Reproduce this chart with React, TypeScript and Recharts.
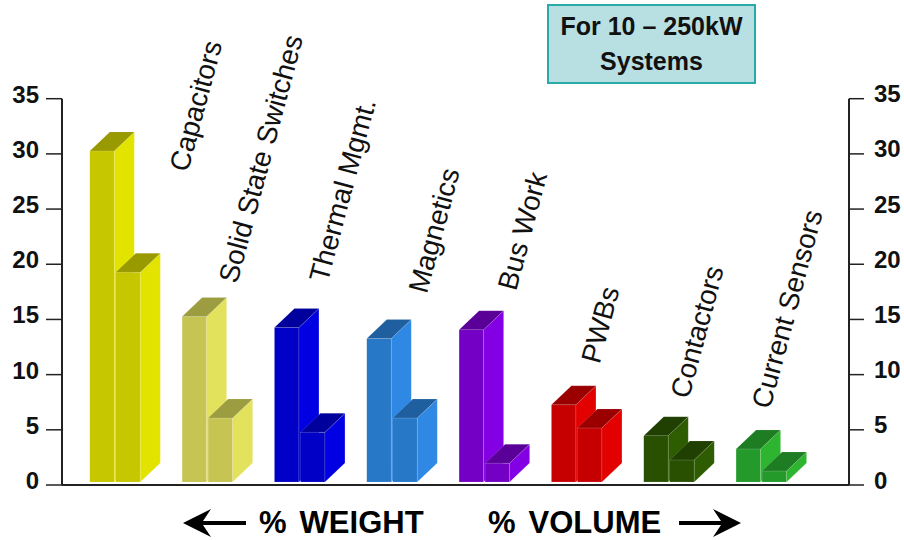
import { ComposedChart, Bar, Line, XAxis, YAxis, LabelList } from "recharts";

const categories = [
  "Capacitors",
  "Solid State Switches",
  "Thermal Mgmt.",
  "Magnetics",
  "Bus Work",
  "PWBs",
  "Contactors",
  "Current Sensors",
];
const weightValues = [30, 15, 14, 13, 13.8, 7, 4.2, 3];
const volumeValues = [19, 5.8, 4.5, 5.8, 1.7, 4.9, 2, 1];
const axisTicks = [0, 5, 10, 15, 20, 25, 30, 35];

const frontColors = ["#c7c700", "#c6c452", "#0000c6", "#2878c8", "#7300c4", "#c60000", "#285000", "#249a2a"];
const sideColors = ["#e3e300", "#e3e25c", "#0000e3", "#2e88e4", "#8400e4", "#e30000", "#2e5c00", "#2db52f"];
const topColors = ["#999900", "#9c9c40", "#00009c", "#1f5fa0", "#5a0098", "#9a0000", "#1f4000", "#1e7c22"];

// label start relative to the top-left corner of the weight bar
const labelOffsets = [
  [98, 22],
  [55, -32],
  [53, -44],
  [60, -44],
  [57, -38],
  [48, -40],
  [45, -36],
  [34, -39],
];

const chartData = categories.map((category, i) => ({
  category,
  weight: weightValues[i],
  volume: volumeValues[i],
}));

const FONT = "'Liberation Sans', Arial, sans-serif";
const INK = "#222";
const DEPTH_X = 20;
const DEPTH_Y = 19;
const BAR_LIFT = 3; // bars float just above the axis line

const Bar3D = (props: any) => {
  const { x, y, width, height, index } = props;
  const top = y - BAR_LIFT;
  const bottom = y + height - BAR_LIFT;
  const right = x + width;
  const edge = "rgba(255,255,255,0.25)";
  return (
    <g stroke={edge} strokeWidth={0.5}>
      <rect x={x} y={top} width={width} height={bottom - top} fill={frontColors[index]} />
      <polygon
        points={`${right},${top} ${right + DEPTH_X},${top - DEPTH_Y} ${right + DEPTH_X},${bottom - DEPTH_Y} ${right},${bottom}`}
        fill={sideColors[index]}
      />
      <polygon
        points={`${x},${top} ${x + DEPTH_X},${top - DEPTH_Y} ${right + DEPTH_X},${top - DEPTH_Y} ${right},${top}`}
        fill={topColors[index]}
      />
    </g>
  );
};

const CategoryLabel = (props: any) => {
  const { x, y, value, index } = props;
  const [dx, dy] = labelOffsets[index];
  const px = x + dx;
  const py = y - BAR_LIFT + dy;
  return (
    <text
      x={px}
      y={py}
      transform={`rotate(-75 ${px} ${py})`}
      fontFamily={FONT}
      fontSize={28}
      fill="#111"
    >
      {value}
    </text>
  );
};

const LeftTick = ({ x, y, payload }: any) => (
  <text x={x} y={y + 4} textAnchor="end" fontFamily={FONT} fontSize={24} fontWeight="bold" fill="#111">
    {payload.value}
  </text>
);

const RightTick = ({ x, y, payload }: any) => (
  <text x={x} y={y + 3.5} textAnchor="start" fontFamily={FONT} fontSize={24} fontWeight="bold" fill="#111">
    {payload.value}
  </text>
);

const Caption = ({ x, word }: { x: number; word: string }) => (
  <text x={x} y={533.4} fontFamily={FONT} fontWeight="bold" fontSize={31} fill="#000">
    <tspan>%</tspan>
    <tspan dx={13}>{word}</tspan>
  </text>
);

export default function App() {
  return (
    <div style={{ position: "absolute", left: 0, top: 0, width: 904, height: 540, background: "#fff" }}>
      <ComposedChart
        width={904}
        height={540}
        data={chartData}
        barSize={24.5}
        barGap={1.5}
        margin={{ top: 98.7, right: 0, bottom: 54, left: 0 }}
      >
        <XAxis
          dataKey="category"
          height={1}
          tick={false}
          tickLine={false}
          axisLine={{ stroke: INK, strokeWidth: 2 }}
          padding={{ left: 6.8, right: 41.6 }}
        />
        <YAxis
          yAxisId="left"
          width={62}
          domain={[0, 35]}
          ticks={axisTicks}
          interval={0}
          tick={LeftTick}
          tickSize={16}
          tickMargin={7}
          axisLine={{ stroke: INK, strokeWidth: 2 }}
          tickLine={{ stroke: INK, strokeWidth: 1.5 }}
        />
        <YAxis
          yAxisId="right"
          orientation="right"
          width={55}
          domain={[0, 35]}
          ticks={axisTicks}
          interval={0}
          tick={RightTick}
          tickSize={15}
          tickMargin={10}
          axisLine={{ stroke: INK, strokeWidth: 2 }}
          tickLine={{ stroke: INK, strokeWidth: 1.5 }}
        />
        <Bar yAxisId="left" dataKey="weight" shape={Bar3D} isAnimationActive={false}>
          <LabelList dataKey="category" content={CategoryLabel} />
        </Bar>
        <Bar yAxisId="left" dataKey="volume" shape={Bar3D} isAnimationActive={false} />
        {/* unstroked series so the right axis has something bound to it */}
        <Line
          yAxisId="right"
          dataKey="weight"
          stroke="none"
          dot={false}
          activeDot={false}
          legendType="none"
          isAnimationActive={false}
        />
      </ComposedChart>

      <div
        style={{
          position: "absolute",
          left: 547,
          top: 4,
          width: 205,
          height: 76,
          background: "#b8e0e2",
          border: "2px solid #2aa9a9",
          fontFamily: FONT,
          fontWeight: "bold",
          fontSize: 25,
          lineHeight: "35.5px",
          textAlign: "center",
          color: "#111",
          display: "flex",
          flexDirection: "column",
          justifyContent: "center",
        }}
      >
        <div>For 10 – 250kW</div>
        <div>Systems</div>
      </div>

      <svg width={904} height={540} style={{ position: "absolute", left: 0, top: 0, pointerEvents: "none" }}>
        <Caption x={259} word="WEIGHT" />
        <Caption x={488} word="VOLUME" />
        {/* direction arrows either side of the captions */}
        <polygon points="183,523 211,509 203,521 246,521 246,525 203,525 211,537" fill="#000" />
        <polygon points="741,523 713,509 721,521 679,521 679,525 721,525 713,537" fill="#000" />
      </svg>
    </div>
  );
}
